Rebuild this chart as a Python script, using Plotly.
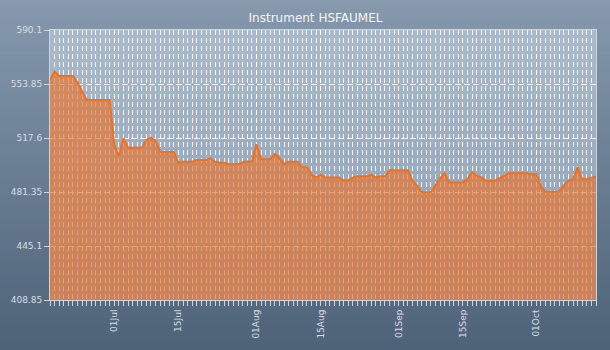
import plotly.graph_objects as go

title_text = "Instrument HSFAUMEL"

dates = ["2013-06-17", "2013-06-18", "2013-06-19", "2013-06-22", "2013-06-23", "2013-06-25",
         "2013-06-30", "2013-07-01", "2013-07-02", "2013-07-03", "2013-07-04", "2013-07-07",
         "2013-07-08", "2013-07-09", "2013-07-10", "2013-07-11", "2013-07-14", "2013-07-15",
         "2013-07-16", "2013-07-18", "2013-07-19", "2013-07-21", "2013-07-22", "2013-07-23",
         "2013-07-24", "2013-07-25", "2013-07-26", "2013-07-28", "2013-07-29", "2013-07-30",
         "2013-07-31", "2013-08-01", "2013-08-02", "2013-08-04", "2013-08-05", "2013-08-06",
         "2013-08-07", "2013-08-08", "2013-08-10", "2013-08-11", "2013-08-12", "2013-08-13",
         "2013-08-14", "2013-08-15", "2013-08-16", "2013-08-19", "2013-08-20", "2013-08-21",
         "2013-08-22", "2013-08-23", "2013-08-25", "2013-08-26", "2013-08-27", "2013-08-28",
         "2013-08-29", "2013-08-30", "2013-09-03", "2013-09-04", "2013-09-05", "2013-09-06",
         "2013-09-08", "2013-09-10", "2013-09-11", "2013-09-12", "2013-09-15", "2013-09-16",
         "2013-09-17", "2013-09-18", "2013-09-19", "2013-09-20", "2013-09-22", "2013-09-23",
         "2013-09-25", "2013-09-29", "2013-09-30", "2013-10-01", "2013-10-02", "2013-10-03",
         "2013-10-06", "2013-10-07", "2013-10-08", "2013-10-09", "2013-10-10", "2013-10-11",
         "2013-10-12", "2013-10-13", "2013-10-14"]

values = [556.5, 562.1, 559.2, 559.2, 554.7, 543.1,
          543.1, 512.9, 505.7, 517.4, 511.1, 511.1,
          516.3, 517.8, 515.6, 508.4, 508.2, 501.0,
          501.7, 501.7, 502.8, 502.8, 504.0, 501.7,
          501.0, 501.0, 500.0, 500.0, 501.3, 501.9,
          501.9, 513.4, 503.3, 503.3, 506.9, 504.0,
          500.2, 501.7, 501.7, 497.9, 497.9, 492.8,
          491.2, 492.8, 491.0, 491.0, 489.0, 489.0,
          491.0, 491.9, 491.9, 492.8, 491.2, 491.9,
          491.9, 495.9, 495.9, 488.9, 485.6, 481.1,
          481.1, 490.5, 493.9, 487.8, 487.8, 490.1,
          494.8, 492.3, 491.2, 488.9, 488.9, 490.5,
          493.9, 493.9, 493.2, 493.2, 484.9, 481.6,
          481.6, 486.0, 488.9, 489.9, 497.9, 489.9,
          489.9, 491.0, 491.6]

x_tick_vals = ["2013-07-01", "2013-07-15", "2013-08-01", "2013-08-15",
               "2013-09-01", "2013-09-15", "2013-10-01"]
x_tick_text = ["01Jul", "15Jul", "01Aug", "15Aug", "01Sep", "15Sep", "01Oct"]

y_tick_vals = [408.85, 445.1, 481.35, 517.6, 553.85, 590.1]
y_tick_text = ["408.85", "445.1", "481.35", "517.6", "553.85", "590.1"]

W, H = 610, 350
ML, MR, MT, MB = 50, 14, 30, 50


def lerp(c1, c2, t):
    return "rgb(%d,%d,%d)" % tuple(round(a + (b - a) * t) for a, b in zip(c1, c2))


shapes = []
# paper gradient
n = 70
top_c, bot_c = (134, 153, 173), (78, 98, 120)
for i in range(n):
    y0 = 1 - i / n
    y1 = 1 - (i + 1) / n
    shapes.append(dict(type="rect", xref="paper", yref="paper", layer="below",
                       x0=-ML / (W - ML - MR) - 0.01, x1=1 + MR / (W - ML - MR) + 0.01,
                       y0=1 + MT / (H - MT - MB) - (i / n) * (H / (H - MT - MB)) + 0.001,
                       y1=1 + MT / (H - MT - MB) - ((i + 1) / n) * (H / (H - MT - MB)) - 0.001,
                       fillcolor=lerp(top_c, bot_c, (i + 0.5) / n), line=dict(width=0)))
# plot area gradient
m = 54
ptop, pbot = (170, 186, 202), (140, 158, 178)
for i in range(m):
    shapes.append(dict(type="rect", xref="paper", yref="paper", layer="below",
                       x0=0, x1=1, y0=1 - i / m + 0.0005, y1=1 - (i + 1) / m - 0.0005,
                       fillcolor=lerp(ptop, pbot, (i + 0.5) / m), line=dict(width=0)))

fig = go.Figure()
fig.add_trace(go.Scatter(
    x=dates, y=values, mode="lines", fill="tozeroy",
    fillcolor="rgba(232,116,46,0.66)",
    line=dict(color="rgb(240,112,32)", width=2),
    hoverinfo="x+y", showlegend=False,
))

font_family = "DejaVu Sans"
grid_c = "rgba(255,255,255,0.85)"
axis_c = "rgb(205,214,224)"

fig.update_layout(
    width=W, height=H,
    margin=dict(l=ML, r=MR, t=MT, b=MB),
    paper_bgcolor="rgb(106,125,146)",
    plot_bgcolor="rgba(0,0,0,0)",
    shapes=shapes,
    title=dict(text=title_text, x=315.5 / W, xanchor="center", y=1 - 18 / H, yanchor="middle",
               font=dict(family=font_family, size=12, color="rgb(245,245,245)")),
    font=dict(family=font_family, size=9, color="rgb(215,222,230)"),
    xaxis=dict(
        type="date", range=["2013-06-17", "2013-10-14"],
        tickmode="array", tickvals=x_tick_vals, ticktext=x_tick_text,
        tickangle=-90, ticks="outside", ticklen=5, tickcolor=axis_c, tickwidth=1,
        showgrid=True, gridcolor=grid_c, griddash="5px,3px", gridwidth=1,
        showline=True, linecolor=axis_c, linewidth=1, mirror=True,
        zeroline=False,
        tickfont=dict(family=font_family, size=9, color="rgb(215,222,230)"),
        minor=dict(dtick=86400000, tick0="2013-06-17", ticks="outside", ticklen=5,
                   tickcolor=axis_c, tickwidth=1, showgrid=True, gridcolor=grid_c,
                   griddash="5px,3px", gridwidth=1),
    ),
    yaxis=dict(
        range=[408.85, 590.1], tickmode="array", tickvals=y_tick_vals, ticktext=y_tick_text,
        ticks="outside", ticklen=5, tickcolor=axis_c, tickwidth=1,
        showgrid=True, gridcolor=grid_c, griddash="6px,3px", gridwidth=1,
        showline=True, linecolor=axis_c, linewidth=1, mirror=True, zeroline=False,
        tickfont=dict(family=font_family, size=9, color="rgb(215,222,230)"),
    ),
)

fig.write_html("out.html")
